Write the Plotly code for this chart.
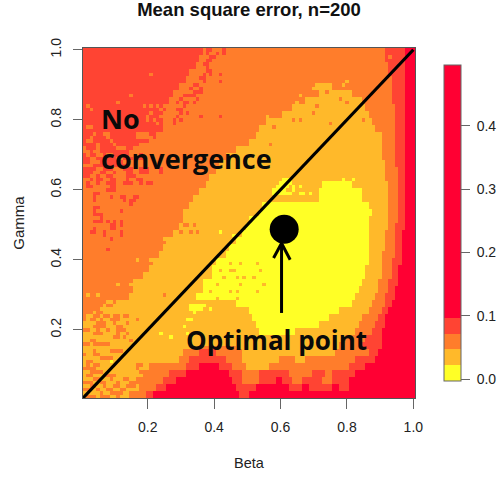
import plotly.graph_objects as go

# Mean square error levels on a 100 x 100 grid of (beta, gamma)
LEVEL_VALUES = [0.010, 0.035, 0.060, 0.085, 0.300]
LEVEL_COLORS = ["#FFFF26", "#FFB92A", "#FF7D2B", "#FF4433", "#FF0033"]
LEVEL_BREAKS = [-0.003, 0.0226, 0.047, 0.072, 0.097, 0.496]
AXIS_TICKS = [0.2, 0.4, 0.6, 0.8, 1.0]
BAR_TICKS = [0.0, 0.1, 0.2, 0.3, 0.4]
BETA = [(k + 1) / 100 for k in range(100)]
GAMMA = [(k + 1) / 100 for k in range(100)]

# region edges per two-row band from the top, in grid columns
EDGE_3 = [36,35,34.5,32,31,29,27,25.5,25,24,24,24,22,20,16,18,14,0,0,0,0,0,0,0,0,0,0,0,0,0,0,0,0,0,0,0,0,0,0,0,0,0,0]
EDGE_2 = [90,90,90,90,90,70,71,67,63,60,55,53,52,50,46,43,41,40,38,37,35,33,31.5,30.5,30,29,27,25,24,23,21,20,18,15,15,14,10,6,1,0,0,0,0]
EDGE_Y0 = [0]*19 + [72,71,71,54,53,50,49,48,46,44,43,40,39,39,36,36,34,46,50,51,52,53,0,0]
EDGE_Y1 = [0]*19 + [81,84,84,85.7,86.7,86.2,86.2,86.2,86,85.7,85.7,85.7,85,84.7,84,83.2,82,80.7,77,74,71,64,0,0]
EDGE_R1 = [90,90,90,90,90,75,81,84,85,85.7,87,88,89.7,90.2,90.2,90.5,90.7,91,91.2,91.5,91.7,91.7,91.7,91.7,91.7,91.5,91.2,91,90.7,90.2,89.7,89.7,89.7,89.2,88.7,88,86.7,85.5,84.2,83,81.7,79,77]
EDGE_R2 = [90.7,91,91.7,92,92.7,93,93,93.2,93.5,93.7,94,94,94.2,94.2,94.4,94.5,94.5,94.6,94.7,94.7,94.7,94.7,94.7,94.7,94.7,94.5,94.2,94,93.7,93.5,93.2,93,92.7,92.2,91.7,91.2,90.7,89.7,88.7,87.7,86.7,85,83.2]
EDGE_R3 = [96.7]*25 + [96.6,96.4,96.2,96,95.8,95.5,95.2,95,94.7,94.4,94,93,91.7,91.2,90.7,90.2,89.7,90]

# the lowest seven bands: (level, end column) runs
BOTTOM_RUNS = [
    [(1,30.5),(2,35),(3,40),(2,47.5),(1,76),(2,86),(3,89),(4,100)],
    [(1,29),(2,32),(3,43),(2,48),(1,58.7),(2,64),(1,67),(2,82.5),(3,88),(4,100)],
    [(1,20),(2,31),(3,35),(4,41),(3,45),(2,49),(1,56),(2,80),(3,85),(4,100)],
    [(1,19),(2,26),(3,31),(4,44),(3,47.5),(2,53),(3,62),(2,68.7),(3,73),(2,75),(3,81.7),(4,100)],
    [(1,16.5),(2,24),(3,28),(4,45),(3,48),(2,53),(3,58),(4,60),(3,63),(2,66),(3,72),(2,75),(3,80),(4,100)],
    [(1,17),(2,22),(3,25),(4,46),(3,52),(4,62),(3,66),(4,68),(3,72),(4,72.5),(3,75),(4,77),(3,80),(4,100)],
    [(1,15.5),(2,19),(3,21),(4,47),(3,50),(4,100)],
]

# isolated cells: row from the top -> columns
SPECK_2 = {
    7:[20],13:[14],15:[10],16:[1,18,20,22,24,26],17:[2,23,25,27],18:[20,24,26],19:[19,23,25],20:[19,21,26],
    21:[22,24],22:[1,2],23:[2,3,6],24:[3,6,7,16,17,18,19],25:[2,7,16,17,18,19,20],26:[1,2,8,20,21],
    27:[4,9,17,18,19],28:[0,4,10,11,12,15,16],29:[0,1,3,4,14,15,16,17],30:[1,4,5,7,8,14,15,16],
    31:[2,3,10,11,15],32:[2,3,4,12,13,14,19],33:[0,1,2],
    12:[73],14:[77],15.5:[79],16.5:[70],18.5:[69],21.5:[74],20.5:[84,65,63],23:[88],22.5:[57],27.5:[56],
    50:[30,31,33],52:[29,32,34],70.5:[24],77.5:[16],85:[35,36,37,38,39,40,41,42,43,44,45],
    76:[3,4,6,7,9,10,12,13],77:[2,3,5,8,9,10],78:[4,5,6,9,13],79:[3,4,5,6,10,11],80:[0,1,4,7,10,11,12],
    81:[3,4,5,10,13],82:[9,10,12],83:[2,3,14],84:[0,1,3,4,5,6,7],86:[3,8,9,10,11],87:[0,3,4],
    88:[5,6,7,8],89:[1,2],90:[1,3,4,16,17],91:[0,1,2,3,16],92:[2,3,4,5,17,18],93:[1,2,6,7,8,9,18,19,20],
    94:[3,4,8,12,13,18,19,20,21],95:[0,1,2,5,6,10,14,15,17,18,21],96:[2,3,6,9,10,13,14,15,17,18,19],
    97:[0,1,4,7,8,11,12,17],98:[5,8,9,10,11,14,15,16,17,18],99:[1,2,3,5,6,7,10,14,15,16,17,18],
    2.6:[92],
}
SPECK_3 = {
    0:[37,38,42],1:[37,40,42],2:[38,39],3:[37,38],4:[36,37],5:[37],6:[37,38],7:[36,38,41],8:[35,36],9:[36,41],
    10:[33,34],11:[32,35],12:[33,34,35],13:[30,31,32,33],14:[29,34],15:[28,30,31,33],16:[30],17:[28,29],
    18:[29,31],19:[28,35,41],20:[27,29],21:[27],
    34:[0,1,2,3,6,7,8,12,13,14,17,18,19,23],35:[0,1,2,5,6,9,13,14,17,18,19,23],36:[0,1,4,7,8,13,14,15],
    37:[2,4,5,8,9,13,16,17],38:[1,4,7,8,9,12,13,14,17,19,20],39:[1,2,8,9],40:[7,8,9],41:[3,4],
    42:[3,8,11,12,15,16],43:[3,12,14,15],44:[14],45:[3,4],46:[3,11],47:[3,4,5],48:[5],
    49:[3,4,5,7,9,11],50:[8,9,11],51:[3,8,9],52:[2,3,6,11],53:[6,11],54:[8],57:[7],
}
SPECK_1 = {
    9:[79],10:[78,71],11:[69],13:[65],15:[64],19:[55],23:[53],
    54:[24,26],60:[16,20],63:[21],67:[10,14],70:[1,4],72:[7,8],73:[6,9,11,15],74:[5,6,8,16,17],75:[3,6,16],
    61:[44,47,52],63.5:[41,44,45,53],65:[42,46,48,51],67.5:[40,47,54],69:[38,44,46,52],71:[40,46],
}
SPECK_0 = {
    37:[60,61,62,78,81],38:[59,60,61,62],39:[58,59,60,61,63,65],40:[57,58,59,60,63],41:[57,58,59,60,61,62,65,66,68],
    52:[41],53:[45],73:[32,33,34,35,36],74:[32,33,34,35,38],75:[33],77:[31,32],79:[30],81:[31,23],82:[26],89:[8],
}

# annotations drawn on the data axes
DIAG_X = [0.005, 1.0]
DIAG_Y = [0.005, 1.0]
OPT_BETA = [0.611]
OPT_GAMMA = [0.487]
ARROW_X = [0.603, 0.603, None, 0.579, 0.603, 0.629]
ARROW_Y = [0.248, 0.447, None, 0.405, 0.447, 0.400]

levels = [[0] * 100 for _ in range(100)]


def fill(row, runs):
    start = 0
    for lvl, end in runs:
        stop = min(100, int(round(end)))
        for col in range(start, stop):
            levels[row][col] = lvl
        start = max(start, stop)


for band in range(50):
    if band < len(EDGE_3):
        runs = [(3, EDGE_3[band]), (2, EDGE_2[band]), (1, EDGE_Y0[band] or EDGE_R1[band]),
                (0, EDGE_Y1[band]), (1, EDGE_R1[band]), (2, EDGE_R2[band]), (3, EDGE_R3[band]), (4, 100)]
    else:
        runs = BOTTOM_RUNS[band - len(EDGE_3)]
    fill(2 * band, runs)
    fill(2 * band + 1, runs)

for lvl, specks in ((2, SPECK_2), (3, SPECK_3), (1, SPECK_1), (0, SPECK_0)):
    for row, cols in specks.items():
        for col in cols:
            levels[int(row)][col] = lvl

z = [[LEVEL_VALUES[v] for v in row] for row in reversed(levels)]

lo, hi = LEVEL_BREAKS[0], LEVEL_BREAKS[-1]
scale = []
for k, color in enumerate(LEVEL_COLORS):
    scale.append([(LEVEL_BREAKS[k] - lo) / (hi - lo), color])
    scale.append([(LEVEL_BREAKS[k + 1] - lo) / (hi - lo), color])

FONT = "Liberation Sans, Arial, sans-serif"
INK = "#666666"

fig = go.Figure()
fig.add_trace(go.Heatmap(
    x=BETA, y=GAMMA, z=z, zmin=lo, zmax=hi, colorscale=scale, hoverinfo="skip",
    colorbar=dict(
        x=1.0875, xanchor="left", xpad=0, thickness=17, thicknessmode="pixels",
        y=0.0486, yanchor="bottom", ypad=0, len=316, lenmode="pixels",
        outlinewidth=1, outlinecolor="#666666",
        tickmode="array", tickvals=BAR_TICKS, ticktext=[f"\u00a0{v:.1f}" for v in BAR_TICKS],
        ticks="outside", ticklen=9, tickwidth=1, tickcolor=INK,
        tickfont=dict(family=FONT, size=14, color="#222222"),
    ),
))
fig.add_trace(go.Scatter(x=DIAG_X, y=DIAG_Y, mode="lines", line=dict(color="black", width=3.2),
                         hoverinfo="skip", showlegend=False))
fig.add_trace(go.Scatter(x=OPT_BETA, y=OPT_GAMMA, mode="markers", marker=dict(color="black", size=29),
                         hoverinfo="skip", showlegend=False))
fig.add_trace(go.Scatter(x=ARROW_X, y=ARROW_Y, mode="lines", line=dict(color="black", width=3),
                         hoverinfo="skip", showlegend=False))

for text, xpos, ypos, size in (("No", 0.052, 0.803, 27), ("convergence", 0.052, 0.690, 27), ("Optimal point", 0.308, 0.171, 26)):
    fig.add_annotation(x=xpos, y=ypos, text=f"<b>{text}</b>", showarrow=False, xanchor="left", yanchor="middle",
                       font=dict(family="Open Sans, Noto Sans, sans-serif", size=size, color="#0a0a0a"))

axis = dict(tickmode="array", tickvals=AXIS_TICKS, ticktext=[f"{v:.1f}" for v in AXIS_TICKS],
            ticks="outside", tickwidth=1, tickcolor=INK,
            showline=True, linecolor="#555555", linewidth=1, mirror=True,
            showgrid=False, zeroline=False, automargin=False,
            range=[0.005, 1.005], tickfont=dict(family=FONT, size=14, color="#222222"))

fig.update_layout(
    width=498, height=477, paper_bgcolor="white", plot_bgcolor="white",
    margin=dict(l=83.3, r=83, t=47.7, b=79, autoexpand=False),
    title=dict(text="<b>Mean square error, n=200</b>", x=0.5, xanchor="center", xref="paper",
               y=1 - 10 / 477, yanchor="middle",
               font=dict(family=FONT, size=18.5, color="#111111")),
    xaxis=dict(axis, ticklen=10, ticklabelstandoff=6,
               title=dict(text="Beta", standoff=24, font=dict(family=FONT, size=14.5, color="#222222"))),
    yaxis=dict(axis, ticklen=9, tickangle=-90, ticklabelstandoff=6,
               title=dict(text="Gamma", standoff=20, font=dict(family=FONT, size=15, color="#222222"))),
    showlegend=False,
)

fig.write_html("out.html", config={"displayModeBar": False},
               post_script="document.body.style.margin='0';")
